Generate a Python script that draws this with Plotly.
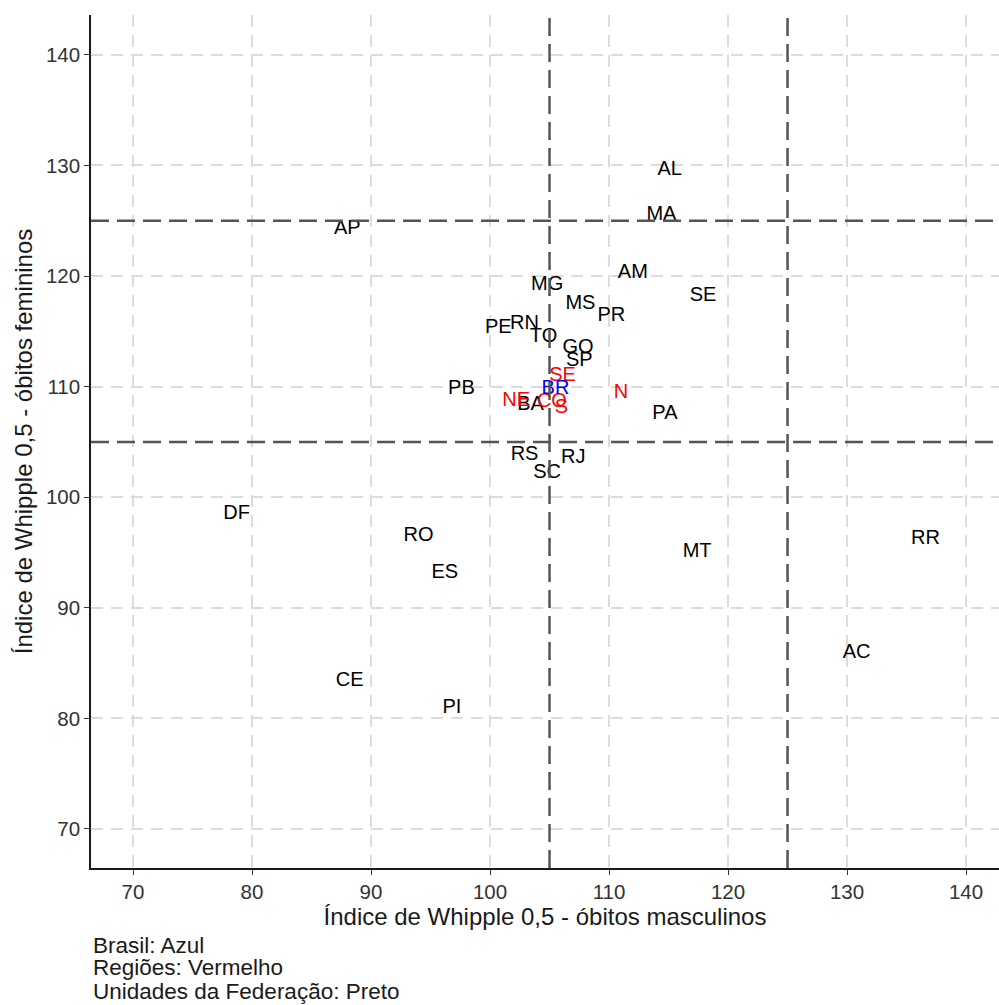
import plotly.graph_objects as go

# UF labels (black)
uf_labels = ["AL", "MA", "AP", "AM", "SE", "MG", "MS", "PR", "PE", "RN", "TO", "GO", "SP",
             "BA", "PA", "PB", "RS", "RJ", "SC", "DF", "RO", "ES", "MT", "RR", "AC", "CE", "PI"]
uf_male = [115.1, 114.4, 88.0, 112.0, 117.9, 104.8, 107.6, 110.2, 100.7, 102.9, 104.5, 107.4, 107.5,
           103.4, 114.7, 97.6, 102.9, 107.0, 104.8, 78.7, 94.0, 96.2, 117.4, 136.6, 130.8, 88.2, 96.8]
uf_female = [129.6, 125.5, 124.25, 120.3, 118.2, 119.2, 117.5, 116.4, 115.3, 115.7, 114.5, 113.5, 112.3,
             108.3, 107.5, 109.8, 103.8, 103.5, 102.2, 98.5, 96.5, 93.1, 95.0, 96.2, 85.9, 83.4, 80.9]

# Regions (red)
reg_labels = ["SE", "N", "NE", "CO", "S"]
reg_male = [106.1, 111.0, 102.2, 105.2, 106.0]
reg_female = [111.0, 109.4, 108.7, 108.6, 108.05]

# Brasil (blue)
br_labels = ["BR"]
br_male = [105.5]
br_female = [109.8]

# Reference lines
ref_x = [105, 125]
ref_y = [105, 125]

x_ticks = [70, 80, 90, 100, 110, 120, 130, 140]
y_ticks = [70, 80, 90, 100, 110, 120, 130, 140]

caption_lines = ["Brasil: Azul", "Regiões: Vermelho", "Unidades da Federação: Preto"]
caption_y = [-0.0903, -0.1172, -0.1442]

FONT = "Liberation Sans, Arial, Helvetica, sans-serif"

fig = go.Figure()
for labs, xs, ys, col in [(uf_labels, uf_male, uf_female, "#000000"),
                          (reg_labels, reg_male, reg_female, "#ff0000"),
                          (br_labels, br_male, br_female, "#0000ff")]:
    fig.add_trace(go.Scatter(x=xs, y=ys, text=labs, mode="text",
                             textposition="middle center",
                             textfont=dict(family=FONT, size=20, color=col),
                             showlegend=False, hoverinfo="skip", cliponaxis=False))

for v in ref_x:
    fig.add_vline(x=v, line=dict(color="#555555", width=2.5, dash="18px,8px"), layer="above")
for v in ref_y:
    fig.add_hline(y=v, line=dict(color="#555555", width=2.5, dash="18px,8px"), layer="above")

for line, yy in zip(caption_lines, caption_y):
    fig.add_annotation(text=line, xref="paper", yref="paper",
                       x=0, y=yy, xanchor="left", yanchor="middle", align="left",
                       showarrow=False, font=dict(family=FONT, size=22.5, color="#1a1a1a"))

axis_common = dict(showline=True, linecolor="#1a1a1a", linewidth=1.5,
                   ticks="outside", ticklen=5, tickcolor="#333333", tickwidth=1.2,
                   showgrid=True, gridcolor="#dcdcdc", gridwidth=1.5, griddash="12px,8px",
                   zeroline=False, mirror=False,
                   tickfont=dict(family=FONT, size=20.5, color="#333333"))

fig.update_xaxes(range=[66.47, 142.77], tickvals=x_ticks,
                 title=dict(text="Índice de Whipple 0,5 - óbitos masculinos",
                            font=dict(family=FONT, size=24, color="#1a1a1a"), standoff=0),
                 **axis_common)
fig.update_yaxes(range=[66.47, 143.6], tickvals=y_ticks,
                 title=dict(text="Índice de Whipple 0,5 - óbitos femininos",
                            font=dict(family=FONT, size=24, color="#1a1a1a"), standoff=7),
                 **axis_common)

fig.update_layout(width=999, height=1005, margin=dict(l=91, r=0, t=15, b=137),
                  plot_bgcolor="white", paper_bgcolor="white",
                  font=dict(family=FONT))

fig.write_html("out.html")
